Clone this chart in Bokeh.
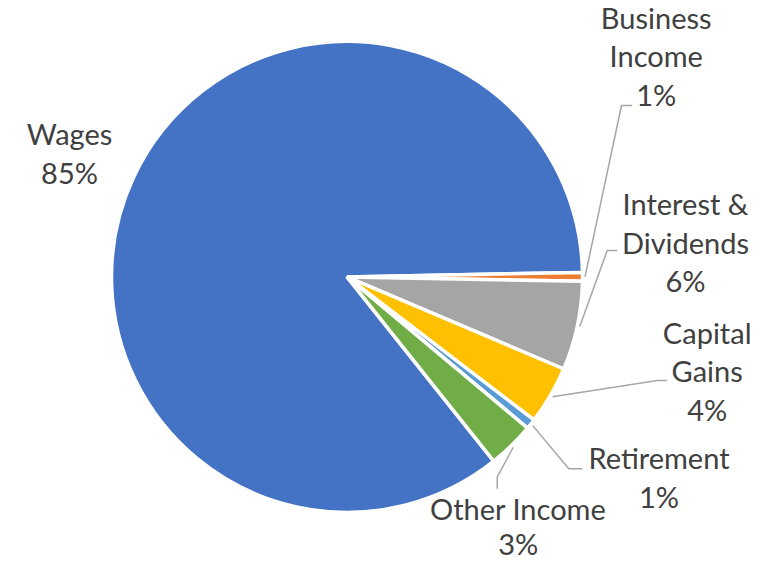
import numpy as np
from bokeh.plotting import figure
from bokeh.models import Range1d
from bokeh.embed import file_html
from bokeh.resources import INLINE
from bokeh.core.properties import value

# ---- data ----
categories = ["Wages", "Business Income", "Interest & Dividends",
              "Capital Gains", "Retirement", "Other Income"]
values = [85.4, 0.6, 6.1, 4.0, 0.7, 3.2]
label_lines = [["Wages"], ["Business", "Income"], ["Interest &", "Dividends"],
               ["Capital", "Gains"], ["Retirement"], ["Other Income"]]

# ---- styles / layout ----
colors = ["#4472C4", "#ED7D31", "#A5A5A5", "#FFC000", "#5B9BD5", "#70AD47"]
W, H = 761, 563


def Y(y):
    return 563 - y


p = figure(width=W, height=H, x_range=Range1d(0, 761), y_range=Range1d(0, 563),
           output_backend="svg", toolbar_location=None, min_border=0,
           x_axis_location=None, y_axis_location=None)
p.grid.visible = False
p.outline_line_color = None
p.background_fill_color = "white"
p.border_fill_color = "white"

cx, cy = 346.5, Y(276.4)
R = 235.5
frac = np.array(values) / sum(values)
E = 1.1
S = E + frac[0] * 360.0
cum = np.concatenate([[0.0], np.cumsum(frac)])
starts_deg = S - cum[:-1] * 360.0
ends_deg = S - cum[1:] * 360.0
starts = np.radians(starts_deg)
ends = np.radians(ends_deg)

p.wedge(x=cx, y=cy, radius=R, radius_units="screen",
        start_angle=list(starts), end_angle=list(ends), direction="clock",
        fill_color=colors, line_color="white", line_width=3.5)

# leader lines (from slice mid-angle outwards to label)
mids = (starts + ends) / 2.0
r_lead = 238.0
elbows = {
    1: [(621.0, 105.0), (631.7, 105.0)],
    2: [(606.7, 250.0), (616.7, 250.0)],
    3: [(656.7, 380.0), (666.7, 380.0)],
    4: [(568.3, 468.3), (581.7, 468.3)],
    5: [(496.7, 476.7), (496.7, 488.3)],
}
xs, ys = [], []
for i, pts in elbows.items():
    x0 = cx + r_lead * np.cos(mids[i])
    y0 = cy + r_lead * np.sin(mids[i])
    xs.append([x0] + [q[0] for q in pts])
    ys.append([y0] + [Y(q[1]) for q in pts])
p.multi_line(xs, ys, line_color="#A6A6A6", line_width=1.5)

# labels (first-line baseline positions)
anchors = [(69.0, 133.3), (655.7, 17.0), (685.0, 203.3),
           (706.7, 331.7), (658.5, 457.3), (517.7, 508.3)]
spacing = 38.4
tx, ty, tt = [], [], []
for i, cat in enumerate(categories):
    lines = label_lines[i] + [f"{round(values[i])}%"]
    ax, ay = anchors[i]
    for j, ln in enumerate(lines):
        yy = min(ay + j * spacing, 543.0)
        tx.append(ax)
        ty.append(Y(yy))
        tt.append(ln)

p.text(x=tx, y=ty, text=tt, text_align="center", text_baseline="alphabetic",
       text_font=value("Lato"), text_font_size="29px", text_color="#404040")

open("out.html", "w").write(file_html(p, INLINE))
